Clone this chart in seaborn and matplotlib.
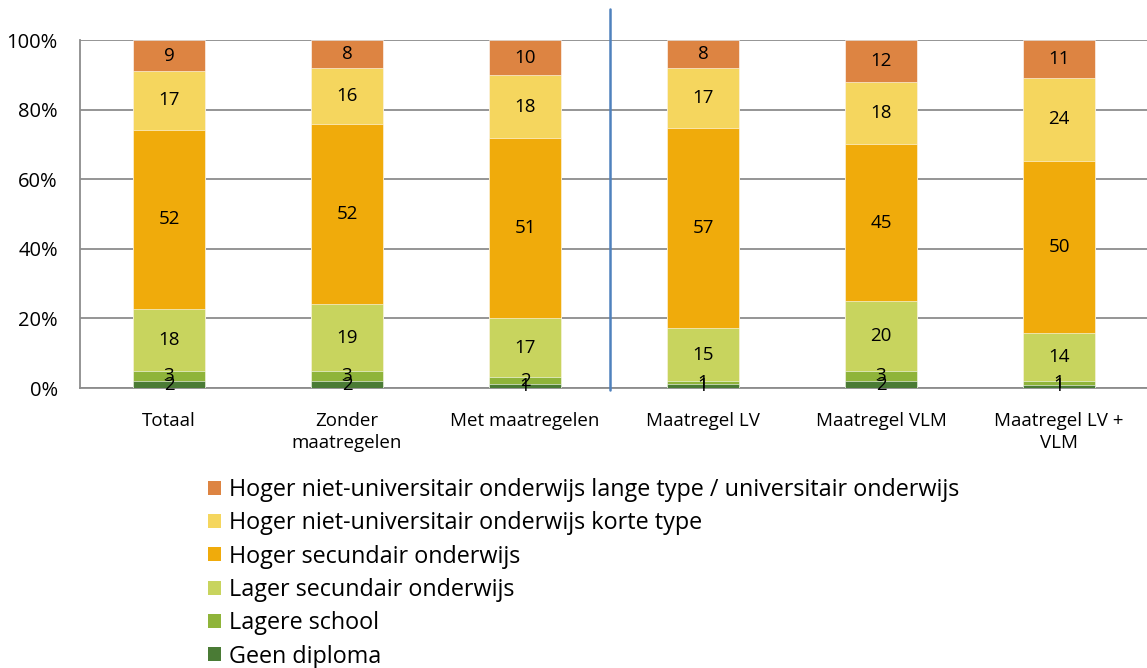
import numpy as np
import pandas as pd
import matplotlib
matplotlib.use("Agg")
import matplotlib.pyplot as plt
from matplotlib.patches import Patch
import seaborn as sns

categories = ["Totaal", "Zonder\nmaatregelen", "Met maatregelen",
              "Maatregel LV", "Maatregel VLM", "Maatregel LV +\nVLM"]
levels = ["Geen diploma", "Lagere school", "Lager secundair onderwijs",
          "Hoger secundair onderwijs",
          "Hoger niet-universitair onderwijs korte type",
          "Hoger niet-universitair onderwijs lange type / universitair onderwijs"]
geen_diploma = [2, 2, 1, 1, 2, 1]
lagere_school = [3, 3, 2, 1, 3, 1]
lager_secundair = [18, 19, 17, 15, 20, 14]
hoger_secundair = [52, 52, 51, 57, 45, 50]
korte_type = [17, 16, 18, 17, 18, 24]
lange_type = [9, 8, 10, 8, 12, 11]
colors = ["#4A7B35", "#8FB43A", "#C8D45E", "#F0AB0B", "#F5D65E", "#DD8442"]

series = [geen_diploma, lagere_school, lager_secundair, hoger_secundair, korte_type, lange_type]
vals = np.array(series, dtype=float)          # levels x categories
pct = vals / vals.sum(axis=0) * 100.0
cum = np.cumsum(pct, axis=0)

sns.set_style("white")
plt.rcParams['font.family'] = ['Open Sans', 'DejaVu Sans']
plt.rcParams['text.color'] = 'black'
plt.rcParams['xtick.labelcolor'] = 'black'
plt.rcParams['ytick.labelcolor'] = 'black'

fig = plt.figure(figsize=(11.47, 6.68), dpi=100)
ax = fig.add_axes([80/1147, 1-388/668, 1068/1147, 348/668])

rows = []
for li, lev in enumerate(levels):
    for ci, cat in enumerate(categories):
        rows.append({"cat": cat, "level": lev, "cum": cum[li, ci],
                     "pct": pct[li, ci], "val": series[li][ci]})
df = pd.DataFrame(rows)

for li in range(len(levels) - 1, -1, -1):
    sub = df[df["level"] == levels[li]]
    sns.barplot(data=sub, x="cat", y="cum", order=categories, color=colors[li],
                width=0.4, saturation=1, errorbar=None, ax=ax, zorder=3,
                edgecolor="white", linewidth=0.4)

# data labels
for li in range(len(levels)):
    for ci in range(len(categories)):
        center = cum[li, ci] - pct[li, ci] / 2
        ax.text(ci, center, str(series[li][ci]), ha="center", va="center",
                fontsize=13.5, color="black", zorder=5)

ax.set_xlim(-0.5, 5.5)
ax.set_ylim(0, 100)
ax.set_yticks(np.arange(0, 101, 20))
ax.set_yticklabels([f"{v}%" for v in range(0, 101, 20)])
ax.yaxis.grid(True, color="#8C8C8C", linewidth=1.3, zorder=0)
ax.set_axisbelow(True)
ax.set_xlabel("")
ax.set_ylabel("")
ax.set_xticks(range(len(categories)))
ax.set_xticklabels(categories, linespacing=1.3)
ax.set_xticks(np.arange(-0.5, 5.6, 1), minor=True)
ax.tick_params(axis="x", which="major", length=0, pad=17, labelsize=13.5, labelcolor="black")
ax.tick_params(axis="x", which="minor", length=7, color="#8C8C8C", width=1.3)
ax.tick_params(axis="y", length=7, color="#8C8C8C", width=1.3, pad=9, labelsize=14.5,
               labelcolor="black")
for s in ["top", "right"]:
    ax.spines[s].set_visible(False)
for s in ["left", "bottom"]:
    ax.spines[s].set_color("#8C8C8C")
    ax.spines[s].set_linewidth(1.3)

# separator line
ax.axvline(2.48, ymin=-0.005, ymax=(388-9)/348, color="#4F81BD", linewidth=1.8,
           clip_on=False, zorder=6)

handles = [Patch(facecolor=colors[i], edgecolor="none", label=levels[i])
           for i in range(len(levels) - 1, -1, -1)]
fig.legend(handles=handles, loc="upper left", bbox_to_anchor=(208/1147, 1-478/668),
           frameon=False, fontsize=16.8, handlelength=0.55, handleheight=0.55,
           handletextpad=0.35, labelspacing=0.40, borderaxespad=0, borderpad=0,
           labelcolor="black")

fig.savefig("out.png", dpi=100)
